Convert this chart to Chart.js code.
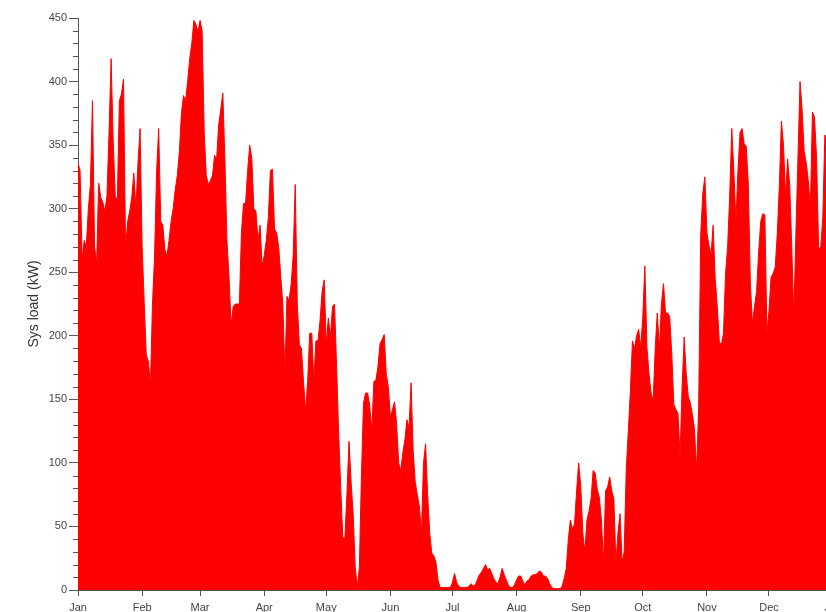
<!DOCTYPE html>
<html>
<head>
<meta charset="utf-8">
<script src="https://cdn.jsdelivr.net/npm/chart.js@4/dist/chart.umd.min.js"></script>
<style>
  html, body { margin: 0; padding: 0; background: #fff; overflow: hidden; width: 826px; height: 612px; }
  canvas { display: block; }
</style>
</head>
<body>
<canvas id="c" width="847" height="612"></canvas>
<script>
// Month tick positions (day of year) and labels
const monthStarts = [0, 31, 59, 90, 120, 151, 181, 212, 243, 273, 304, 334, 365];
const monthLabels = ['Jan','Feb','Mar','Apr','May','Jun','Jul','Aug','Sep','Oct','Nov','Dec','Jan'];
const yTickStep = 50;
const yMinorStep = 10;

// Daily peak system load (kW), day 0 .. 364
const loadJanFeb = [
  336,330,260,275,270,300,319,385,270,257,
  320,309,305,298,310,360,418,354,310,306,
  385,390,402,269,290,298,309,328,300,336,
  363,270,226,185,180,161,225,262,330,363,
  290,287,268,263,275,290,300,315,326,345,
  375,389,385,400,418,430,448,445,439,448,
  440,360,326,319,322,326,342,339,366,378,
  391,339,275
];
const loadMarMay = [
  246,208,223,225,225,225,281,304,304,330,350,340,300,298,275,287,255,
  263,275,293,330,331,284,281,270,247,225,
  170,231,228,240,263,319,225,193,190,164,
  141,164,202,202,164,196,196,212,235,244,
  193,214,199,223,225,176,123,80,41,41,
  76,117,85,60,18,2,18,90,147,155,
  155,145,125,164,165,176
];
const loadJunAug = [
  194,197,201,170,160,136,142,148,131,100,
  94,108,118,134,128,163,110,85,75,66,
  45,100,115,75,45,29,27,22,8,2,
  2,2,2,2,2,6,13,6,3,2,
  2,2,2,3,5,3,4,8,12,14,
  17,20,16,17,13,9,6,5,10,17,
  12,8,4,2,2,4,8,11,11,7,
  4,7,8
];
const loadSepOct = [
  11,12,12,13,15,14,11,11,9,5,
  2,1,1,1,1,3,9,17,40,55,
  48,52,78,100,82,45,30,55,62,72,
  94,92,79,73,55,21,78,81,89,78,
  72,21,45,60,22,30,95,125,157,196,
  190,200,205,191,215,255,191,170,155,149,
  190,218,190,225,241,218,218,215,186,146,
  142,139
];
const loadNovDec = [
  105,160,199,170,152,147,138,126,94,144,
  280,312,325,281,271,264,287,245,223,195,
  193,202,249,270,310,363,330,290,330,360,
  363,351,349,320,240,210,223,235,266,290,
  296,295,202,220,246,249,254,280,318,369,
  350,310,339,319,270,215,281,340,400,378,
  345,336,322,300,376,372,340,268,270,293,
  358,354,350,340
];

const sysLoad = [].concat(loadJanFeb, loadMarMay, loadJunAug, loadSepOct, loadNovDec);
const points = sysLoad.map((v, i) => ({ x: i, y: v }));

const axisColor = '#555';
const tickFont = { family: '"Liberation Sans", Arial, sans-serif', size: 11 };

const minorTicks = {
  id: 'minorTicks',
  afterDraw(chart) {
    const ys = chart.scales.y;
    const ctx = chart.ctx;
    const left = chart.chartArea.left;
    ctx.save();
    ctx.strokeStyle = axisColor;
    ctx.lineWidth = 1;
    for (let v = ys.min; v <= ys.max; v += yMinorStep) {
      if (v % yTickStep === 0) continue;
      const py = Math.round(ys.getPixelForValue(v)) + 0.5;
      ctx.beginPath();
      ctx.moveTo(left - 5, py);
      ctx.lineTo(left, py);
      ctx.stroke();
    }
    ctx.restore();
  }
};

new Chart(document.getElementById('c').getContext('2d'), {
  type: 'line',
  data: {
    datasets: [{
      label: 'Sys load (kW)',
      data: points,
      borderColor: '#ff0000',
      backgroundColor: '#ff0000',
      borderWidth: 1,
      fill: 'origin',
      pointRadius: 0,
      tension: 0
    }]
  },
  options: {
    responsive: false,
    animation: false,
    events: [],
    layout: { padding: { top: 18, right: 0, bottom: 0, left: 0 } },
    plugins: { legend: { display: false }, tooltip: { enabled: false } },
    scales: {
      x: {
        type: 'linear',
        min: 0,
        max: 365,
        afterBuildTicks: (s) => { s.ticks = monthStarts.map(v => ({ value: v })); },
        afterFit: (s) => { s.height = 22; },
        ticks: {
          autoSkip: false,
          maxRotation: 0,
          padding: 5,
          color: '#444',
          font: tickFont,
          callback: (v) => monthLabels[monthStarts.indexOf(v)]
        },
        grid: { drawOnChartArea: false, drawTicks: true, tickLength: 6, color: axisColor },
        border: { display: true, color: axisColor }
      },
      y: {
        min: 0,
        max: 450,
        afterFit: (s) => { s.width = 78; },
        ticks: { stepSize: yTickStep, padding: 2, color: '#444', font: tickFont },
        grid: { drawOnChartArea: false, drawTicks: true, tickLength: 9, color: axisColor },
        border: { display: true, color: axisColor },
        title: {
          display: true,
          text: 'Sys load (kW)',
          color: '#333',
          font: { family: '"Liberation Sans", Arial, sans-serif', size: 14 },
          padding: { top: 26, bottom: 0 }
        }
      }
    }
  },
  plugins: [minorTicks]
});
</script>
</body>
</html>
